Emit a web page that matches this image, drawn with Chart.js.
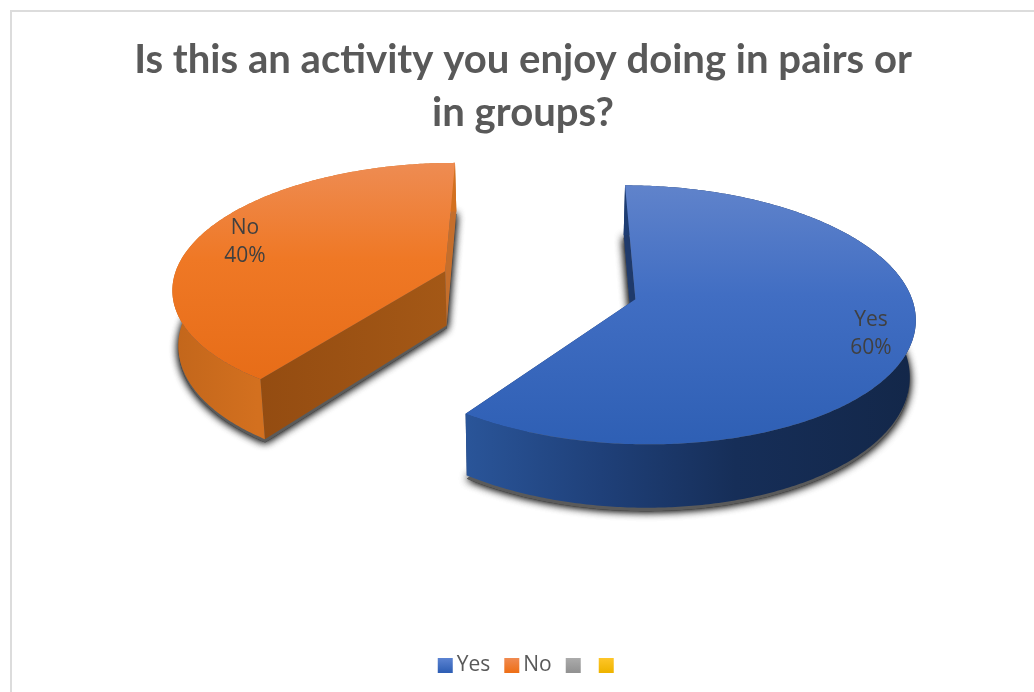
<!DOCTYPE html>
<html>
<head>
<meta charset="utf-8">
<style>
  html, body { margin: 0; padding: 0; background: #fff; width: 1034px; height: 692px; overflow: hidden; }
  #frame { position: absolute; left: 10px; top: 10px; right: 0; bottom: 0; border-left: 2px solid #dcdcdc; border-top: 2px solid #dcdcdc; }
  #wrap { position: absolute; left: 12px; top: 12px; width: 1022px; height: 680px; }
</style>
<script src="https://cdn.jsdelivr.net/npm/chart.js@4"></script>
</head>
<body>
<div id="frame"></div>
<div id="wrap"><canvas id="c" width="1022" height="680"></canvas></div>
<script>
const titleLines = ['Is this an activity you enjoy doing in pairs or', 'in groups?'];
const categories = ['Yes', 'No', '', ''];
const shareValues = [60, 40, 0, 0];
const baseColors = ['#4472c4', '#ed7d31', '#a5a5a5', '#ffc000'];

// 3D look of the pie: a perspective projection of the library's arc geometry
const STAGE = { x: 527, y: 273, tilt: 0.455, persp: 0.000435, depth: 55, taper: 0.016 };
const LOOK = [
  { top: [[0, '#6083cb'], [0.42, '#416ec3'], [1, '#2e5fb4']], topY: [173, 435],
    wall: [[0, '#2a5599'], [0.3, '#1f4079'], [0.6, '#162e58'], [1, '#132749']], wallSpan: 450,
    startFace: ['#1f3a6b', '#1f3a6b'], endFace: ['#1f3a6b', '#1f3a6b'], labelAt: 0.855 },
  { top: [[0, '#ee8c53'], [0.45, '#ef7825'], [1, '#e76d18']], topY: [150, 366],
    wall: [[0, '#c2661b'], [1, '#d3701f']], wallSpan: 85,
    startFace: ['#944c11', '#a45816'], endFace: ['#c56e2b', '#c56e2b'], labelAt: 0.815 }
];

function project(wx, wy, z) {
  const w = 1 - STAGE.persp * wy;
  return [STAGE.x + wx * (1 - STAGE.taper * z / STAGE.depth) / w,
          STAGE.y + (STAGE.tilt * wy + z) / w];
}
function rim(arc, off, z) {
  const mid = (arc.startAngle + arc.endAngle) / 2;
  const ax = Math.cos(mid) * off, ay = Math.sin(mid) * off;
  const pts = [];
  const n = Math.ceil((arc.endAngle - arc.startAngle) * 90);
  for (let i = 0; i <= n; i++) {
    const t = arc.startAngle + (arc.endAngle - arc.startAngle) * i / n;
    pts.push(project(ax + Math.cos(t) * arc.outerRadius, ay + Math.sin(t) * arc.outerRadius, z));
  }
  return { pts, apex: project(ax, ay, z) };
}
function poly(ctx, pts) {
  ctx.beginPath();
  pts.forEach((p, i) => i ? ctx.lineTo(p[0], p[1]) : ctx.moveTo(p[0], p[1]));
  ctx.closePath();
}
function grad(ctx, x0, y0, x1, y1, stops) {
  const g = ctx.createLinearGradient(x0, y0, x1, y1);
  stops.forEach(s => g.addColorStop(s[0], s[1]));
  return g;
}

const pie3d = {
  id: 'pie3d',
  afterLayout(chart) {
    chart.legend.left += 16;
  },
  beforeDatasetsDraw(chart) {
    const ctx = chart.ctx;
    const arcs = chart.getDatasetMeta(0).data;
    const D = STAGE.depth;
    [1, 0].forEach(i => {
      const arc = arcs[i], look = LOOK[i];
      const off = arc.options.offset;
      const up = rim(arc, off, 0), low = rim(arc, off, D), sh = rim(arc, off, D + 3);

      // soft ground shadow
      ctx.save();
      ctx.shadowColor = 'rgba(0,0,0,0.85)';
      ctx.shadowBlur = 9;
      ctx.fillStyle = 'rgba(90,90,90,1)';
      poly(ctx, [sh.apex, ...sh.pts]);
      ctx.fill();
      ctx.fill();
      ctx.restore();

      // cut faces
      const first = up.pts[0], last = up.pts[up.pts.length - 1];
      const lowFirst = low.pts[0], lowLast = low.pts[low.pts.length - 1];
      ctx.fillStyle = grad(ctx, first[0], 0, up.apex[0], 0, [[0, look.startFace[0]], [1, look.startFace[1]]]);
      poly(ctx, [up.apex, first, lowFirst, low.apex]); ctx.fill();
      ctx.fillStyle = grad(ctx, last[0], 0, up.apex[0], 0, [[0, look.endFace[0]], [1, look.endFace[1]]]);
      poly(ctx, [up.apex, last, lowLast, low.apex]); ctx.fill();

      // curved wall
      const minX = Math.min(...up.pts.map(p => p[0]));
      ctx.fillStyle = grad(ctx, minX, 0, minX + look.wallSpan, 0, look.wall);
      poly(ctx, [...up.pts, ...low.pts.slice().reverse()]);
      ctx.fill();

      // top face
      ctx.fillStyle = grad(ctx, 0, look.topY[0], 0, look.topY[1], look.top);
      poly(ctx, [up.apex, ...up.pts]);
      ctx.fill();
    });

    // data labels
    ctx.save();
    ctx.font = '21px "Open Sans"';
    ctx.fillStyle = '#404040';
    ctx.textAlign = 'center';
    ctx.textBaseline = 'middle';
    const values = chart.data.datasets[0].data;
    const total = values.reduce((a, b) => a + b, 0);
    [0, 1].forEach(i => {
      const arc = arcs[i];
      const mid = (arc.startAngle + arc.endAngle) / 2;
      const r = arc.options.offset + arc.outerRadius * LOOK[i].labelAt;
      const p = project(Math.cos(mid) * r, Math.sin(mid) * r, 0);
      ctx.fillText(chart.data.labels[i], p[0], p[1] - 14);
      ctx.fillText(Math.round(values[i] / total * 100) + '%', p[0], p[1] + 14);
    });
    ctx.restore();
    return false;
  }
};

const canvas = document.getElementById('c');
const legendStops = [['#5f86d4', '#2f5fb5'], ['#f08c55', '#ee7018'], ['#adadad', '#929292'], ['#ffc72c', '#efb400']];

new Chart(canvas, {
  type: 'pie',
  data: {
    labels: categories,
    datasets: [{
      data: shareValues,
      backgroundColor: baseColors,
      borderWidth: 0,
      offset: 100,
      radius: 273
    }]
  },
  plugins: [pie3d],
  options: {
    responsive: false,
    animation: false,
    rotation: 0,
    layout: { padding: { top: 22, bottom: 6 } },
    plugins: {
      tooltip: { enabled: false },
      title: {
        display: true,
        text: titleLines,
        color: '#595959',
        font: { family: 'Lato', size: 40.1, weight: 'bold', lineHeight: 1.32 },
        padding: { top: 0, bottom: 10 }
      },
      legend: {
        display: true,
        position: 'bottom',
        labels: {
          color: '#595959',
          font: { family: '"Open Sans"', size: 21 },
          usePointStyle: true,
          pointStyle: 'rect',
          boxWidth: 2,
          boxHeight: 15,
          padding: 20.5,
          generateLabels(chart) {
            const c = chart.ctx;
            return chart.data.labels.map((text, i) => {
              const g = c.createLinearGradient(0, 645, 0, 660);
              g.addColorStop(0, legendStops[i][0]);
              g.addColorStop(1, legendStops[i][1]);
              return { text, fillStyle: g, strokeStyle: 'rgba(0,0,0,0)', lineWidth: 0, pointStyle: 'rect', hidden: false, index: i, fontColor: '#595959' };
            });
          }
        }
      }
    }
  }
});
</script>
</body>
</html>
